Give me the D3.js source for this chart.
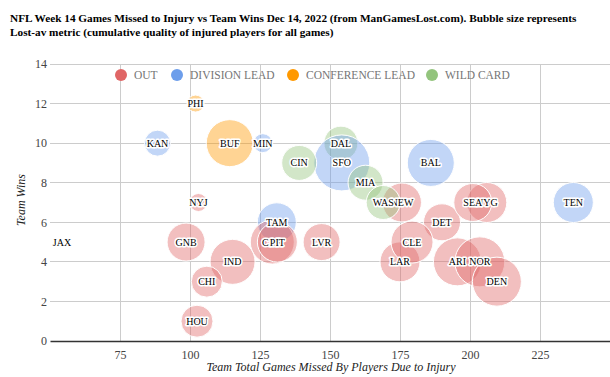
<!DOCTYPE html>
<html><head><meta charset="utf-8">
<script src="https://cdnjs.cloudflare.com/ajax/libs/d3/7.8.5/d3.min.js"></script>
<style>body{margin:0;background:#fff}svg{display:block}</style>
</head><body><svg id="c" width="610" height="377"></svg>
<script>
const teams   = ["JAX","PHI","KAN","BUF","MIN","DAL","SFO","CIN","MIA","NYJ","TAM","CAR","PIT","LVR","GNB","IND","CHI","HOU","NEW","WAS","BAL","DET","TEN","LAR","CLE","ARI","NOR","DEN","NYG","SEA"];
const gamesMissed = [54.3,102,88.4,114.2,126,153.9,154.2,139,162.7,103,131,129.4,131.2,147,98.6,115.2,106,102.5,175.7,169,186,190,236.9,175,179.3,195.5,203.5,209.6,206,201];
const wins    = [5,12,10,10,10,10,9,9,8,7,6,5,5,5,5,4,3,1,7,7,9,6,7,4,5,4,4,3,7,7];
const lostAv  = [4,17,26,47,19,34,56,35,35,18,39,44,40,37,38,45,31,32,39,34,47,37,40,40,42,48,50,49,40,38];
const status  = ["OUT","CONFERENCE LEAD","DIVISION LEAD","CONFERENCE LEAD","DIVISION LEAD","WILD CARD","DIVISION LEAD","WILD CARD","WILD CARD","OUT","DIVISION LEAD","OUT","OUT","OUT","OUT","OUT","OUT","OUT","OUT","WILD CARD","DIVISION LEAD","OUT","DIVISION LEAD","OUT","OUT","OUT","OUT","OUT","OUT","OUT"];
const statusNames = ["OUT","DIVISION LEAD","CONFERENCE LEAD","WILD CARD"];
const statusColors = ["#e06666","#6d9eeb","#ff9900","#93c47d"];
const xTicks = [75,100,125,150,175,200,225];
const yTicks = [0,2,4,6,8,10,12,14];
const titleLines = ["NFL Week 14 Games Missed to Injury vs Team Wins Dec 14, 2022 (from ManGamesLost.com). Bubble size represents","Lost-av metric (cumulative quality of injured players for all games)"];

const cv = document.createElement("canvas").getContext("2d");
function has(f){ cv.font="20px monospace"; const a=cv.measureText("NFL Week Games mw").width;
  cv.font=`20px '${f}', monospace`; const b=cv.measureText("NFL Week Games mw").width; return Math.abs(a-b)>0.5; }
const cands=["Liberation Serif","Times New Roman","Tinos","Noto Serif","DejaVu Serif"];
const FONT = (cands.find(has)||"serif");
const FF = `'${FONT}', serif`;

const svg = d3.select("#c").attr("font-family",FF);
const x = d3.scaleLinear().domain([50,250]).range([50,610]);
const y = d3.scaleLinear().domain([0,14]).range([341,64]);
const r = d3.scaleLinear().domain([d3.min(lostAv), d3.max(lostAv)]).range([2,28]);
const color = d3.scaleOrdinal().domain(statusNames).range(statusColors);

// title, fitted to the reference width
const tt = svg.append("g").selectAll("text").data(titleLines).join("text")
  .attr("x",10).attr("y",(d,i)=>22+i*13.5)
  .attr("font-size",12).attr("font-weight","bold").attr("fill","#000").text(d=>d);
const w0 = tt.nodes()[0].getComputedTextLength();
const tfs = Math.min(13, 12*567/w0);
tt.attr("font-size",tfs);

// grid
const g = svg.append("g");
g.selectAll(".hg").data(yTicks.filter(t=>t>0)).join("line")
  .attr("x1",50).attr("x2",610).attr("y1",d=>y(d)).attr("y2",d=>y(d))
  .attr("stroke","#cccccc").attr("stroke-width",1).attr("shape-rendering","crispEdges");
g.selectAll(".vg").data(xTicks).join("line")
  .attr("x1",d=>x(d)).attr("x2",d=>x(d)).attr("y1",y(14)).attr("y2",y(0))
  .attr("stroke","#cccccc").attr("stroke-width",1).attr("shape-rendering","crispEdges");

// axes
const xAxis = svg.append("g").attr("transform",`translate(0,${y(0)})`)
  .call(d3.axisBottom(x).tickValues(xTicks).tickSize(0).tickPadding(9));
xAxis.attr("font-family",FF);
xAxis.select(".domain").attr("stroke","#333").attr("stroke-width",1.5);
xAxis.selectAll("text").attr("font-size",12).attr("fill","#444");

const yAxis = svg.append("g").attr("transform",`translate(50,0)`)
  .call(d3.axisLeft(y).tickValues(yTicks).tickSize(0).tickPadding(3));
yAxis.attr("font-family",FF);
yAxis.select(".domain").remove();
yAxis.selectAll("text").attr("font-size",12).attr("fill","#444");

// axis titles
svg.append("text").attr("x",331).attr("y",371).attr("text-anchor","middle")
  .attr("font-size",12).attr("font-style","italic").attr("fill","#222")
  .text("Team Total Games Missed By Players Due to Injury");
svg.append("text").attr("transform","translate(25,200) rotate(-90)").attr("text-anchor","middle")
  .attr("font-size",12).attr("font-style","italic").attr("fill","#222").text("Team Wins");

// legend
const legX = [121,177,293,432];
const leg = svg.append("g").selectAll("g").data(statusNames).join("g")
  .attr("transform",(d,i)=>`translate(${legX[i]},75)`);
leg.append("circle").attr("r",6).attr("fill",d=>color(d));
leg.append("text").attr("x",13).attr("y",4).attr("font-size",11.5).attr("fill","#757575").text(d=>d);

// bubbles
const data = teams.map((t,i)=>({t, gx:gamesMissed[i], w:wins[i], s:lostAv[i], st:status[i]}));
svg.append("clipPath").attr("id","pc").append("rect").attr("x",50).attr("y",40).attr("width",560).attr("height",302);
svg.append("g").attr("clip-path","url(#pc)").selectAll("circle").data(data).join("circle")
  .attr("cx",d=>x(d.gx)).attr("cy",d=>y(d.w)).attr("r",d=>r(d.s))
  .attr("fill",d=>color(d.st)).attr("fill-opacity",0.42)
  .attr("stroke","#fff").attr("stroke-width",1);

svg.append("g").selectAll("text").data(data).join("text")
  .attr("x",d=>x(d.gx)).attr("y",d=>y(d.w)+3.5)
  .attr("text-anchor","middle").attr("font-size",10).attr("fill","#000")
  .attr("stroke","#fff").attr("stroke-width",3).attr("stroke-linejoin","round")
  .attr("paint-order","stroke").text(d=>d.t);
</script></body></html>
